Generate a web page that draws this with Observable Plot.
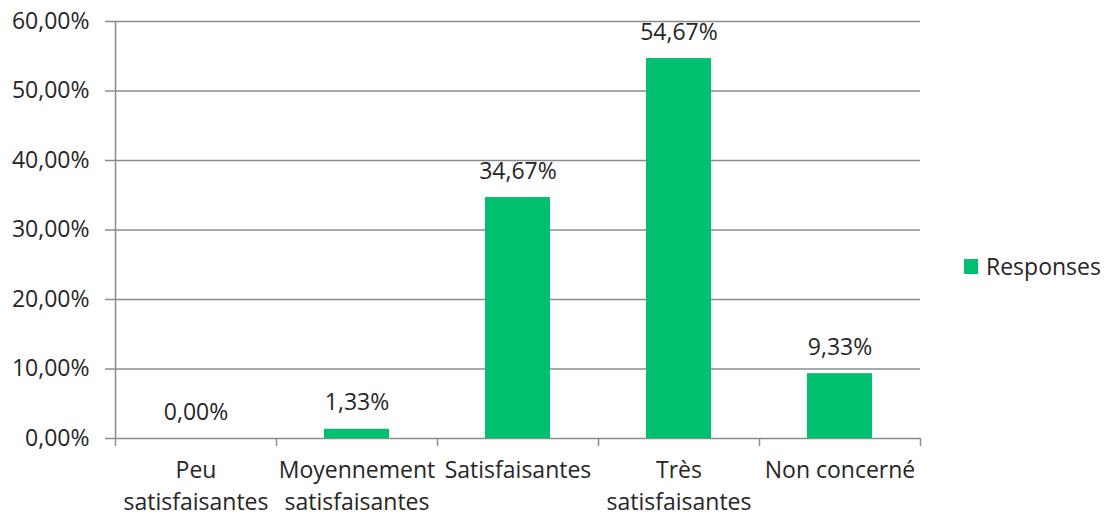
<!DOCTYPE html>
<html>
<head>
<meta charset="utf-8">
<script src="https://cdn.jsdelivr.net/npm/d3@7"></script>
<script src="https://cdn.jsdelivr.net/npm/@observablehq/plot@0.6"></script>
<style>
  body { margin: 0; background: white; }
  #wrap { position: relative; width: 1104px; height: 517px; }
  #legend { position: absolute; left: 964px; top: 250px; font-family: "Open Sans", sans-serif; font-size: 23px; color: #262626; display: flex; align-items: center; }
  #legend .sw { width: 14px; height: 15px; background: #00C06F; margin-right: 8px; }
</style>
</head>
<body>
<div id="wrap">
  <div id="chart"></div>
  <div id="legend"><div class="sw"></div><span>Responses</span></div>
</div>
<script>
const categories = ["Peu satisfaisantes", "Moyennement satisfaisantes", "Satisfaisantes", "Très satisfaisantes", "Non concerné"];
const categoryLabels = ["Peu\nsatisfaisantes", "Moyennement\nsatisfaisantes", "Satisfaisantes", "Très\nsatisfaisantes", "Non concerné"];
const values = [0, 1.33, 34.67, 54.67, 9.33];
const yTicks = [0, 10, 20, 30, 40, 50, 60];

const data = categories.map((c, i) => ({cat: c, value: values[i]}));
const labelOf = new Map(categories.map((c, i) => [c, categoryLabels[i]]));
const fmt = v => v.toFixed(2).replace(".", ",") + "%";
const gray = "#8c8c8c";
const ink = "#262626";

const chart = Plot.plot({
  width: 1104,
  height: 517,
  marginLeft: 115,
  marginRight: 184,
  marginTop: 21,
  marginBottom: 79,
  style: {fontFamily: "Open Sans, sans-serif", fontSize: "23px", color: ink, background: "white"},
  x: {domain: categories, padding: 0, label: null},
  y: {domain: [0, 60], label: null},
  marks: [
    Plot.gridY(yTicks, {stroke: gray, strokeOpacity: 1, strokeWidth: 1.5, insetLeft: -10}),
    Plot.frame({anchor: "left", stroke: gray, strokeWidth: 1.5}),
    Plot.ruleX(categories, {x: d => d, y1: 0, y2: 0, dx: -80.5, insetBottom: -8, stroke: gray, strokeWidth: 1.5}),
    Plot.ruleX([categories[categories.length - 1]], {x: d => d, y1: 0, y2: 0, dx: 80.5, insetBottom: -8, stroke: gray, strokeWidth: 1.5}),
    Plot.barY(data, {x: "cat", y: "value", fill: "#00C06F", insetLeft: 48, insetRight: 48}),
    Plot.text(data, {x: "cat", y: "value", text: d => fmt(d.value), lineAnchor: "bottom", dy: -19, fontSize: 23, fill: ink}),
    Plot.axisY({ticks: yTicks, tickSize: 0, tickPadding: 26, tickFormat: fmt, label: null, fontSize: 23, fill: ink}),
    Plot.axisX({tickSize: 0, tickPadding: 17, tickFormat: d => labelOf.get(d), label: null, lineHeight: 1.38, fontSize: 23, fill: ink})
  ]
});
document.getElementById("chart").appendChild(chart);
</script>
</body>
</html>
